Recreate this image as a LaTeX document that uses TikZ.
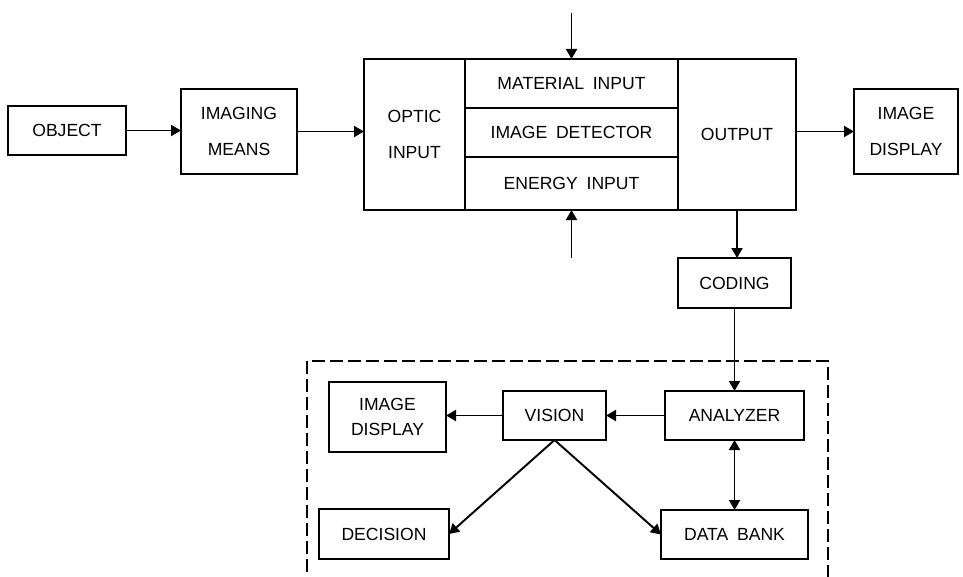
\documentclass[tikz,border=0pt]{standalone}
\usepackage{fontspec}
\setmainfont[WordSpace=1.8]{Liberation Sans}
\usetikzlibrary{positioning, arrows.meta}

\begin{document}
\begin{tikzpicture}[
    font=\fontsize{10}{12}\selectfont,
    line width=1.1pt,
    blk/.style={draw, align=center, inner sep=0pt, outer sep=0pt},
    flow/.style={-{Triangle[length=2mm, width=2.2mm]}},
    both/.style={{Triangle[length=2mm, width=2.2mm]}-{Triangle[length=2mm, width=2.2mm]}},
    frame/.style={line width=0.8pt, dash pattern=on 2.6mm off 1mm},
  ]
    \useasboundingbox (0,0) rectangle (19.26,-11.52);
    % imaging chain
    \node[blk, minimum width=2.36cm, minimum height=0.98cm] (obj) at (1.34,-2.61) {OBJECT};
    \node[blk, minimum width=2.32cm, minimum height=1.7cm]  (img) at (4.78,-2.63) {IMAGING\\[8pt]MEANS};
    % image detector block
    \node[blk, minimum width=2.02cm, minimum height=3.02cm] (opt) at (8.29,-2.69) {OPTIC\\[8pt]INPUT};
    \node[blk, minimum width=4.26cm, minimum height=0.98cm] (mat) at (11.43,-1.67) {MATERIAL INPUT};
    \node[blk, minimum width=4.26cm, minimum height=0.98cm] (det) at (11.43,-2.65) {IMAGE DETECTOR};
    \node[blk, minimum width=4.26cm, minimum height=1.06cm] (en)  at (11.43,-3.67) {ENERGY INPUT};
    \node[blk, minimum width=2.36cm, minimum height=3.02cm] (out) at (14.74,-2.69) {OUTPUT};
    \node[blk, minimum width=2.08cm, minimum height=1.7cm]  (disp) at (18.12,-2.63) {IMAGE\\[8pt]DISPLAY};
    \coordinate (matin) at (11.43,-0.26);
    \coordinate (enin)  at (11.43,-5.16);
    \node[blk, minimum width=2.26cm, minimum height=1.0cm] (cod) at (14.69,-5.66) {CODING};
    % analysis part
    \node[blk, minimum width=2.34cm, minimum height=1.4cm]  (idisp) at (7.75,-8.34) {IMAGE\\[2pt]DISPLAY};
    \node[blk, minimum width=2.06cm, minimum height=0.98cm] (vis) at (11.09,-8.31) {VISION};
    \node[blk, minimum width=2.78cm, minimum height=0.98cm] (ana) at (14.69,-8.31) {ANALYZER};
    \node[blk, minimum width=2.6cm,  minimum height=1.0cm]  (dec) at (7.68,-10.68) {DECISION};
    \node[blk, minimum width=2.94cm, minimum height=0.98cm] (bank) at (14.69,-10.69) {DATA BANK};
    \draw[frame] (6.14,-11.8) -- (6.14,-7.22) -- (16.56,-7.22) -- (16.56,-11.8);
    % connectors
    \draw[flow] (obj.east) -- (obj.east -| img.west);
    \draw[flow] (img.east) -- (img.east -| opt.west);
    \draw[flow] (matin) -- (mat.north);
    \draw[flow] (enin) -- (en.south);
    \draw[flow] (disp.west -| out.east) -- (disp.west);
    \draw[flow] (out.south) -- (out.south |- cod.north);
    \draw[flow] (cod.south) -- (ana.north);
    \draw[flow] (ana.west) -- (vis.east);
    \draw[flow] (vis.west) -- (vis.west -| idisp.east);
    \draw[flow] (vis.south) -- (dec.east);
    \draw[flow] (vis.south) -- (bank.west);
    \draw[both] (ana.south) -- (bank.north);
  \end{tikzpicture}
\end{document}
